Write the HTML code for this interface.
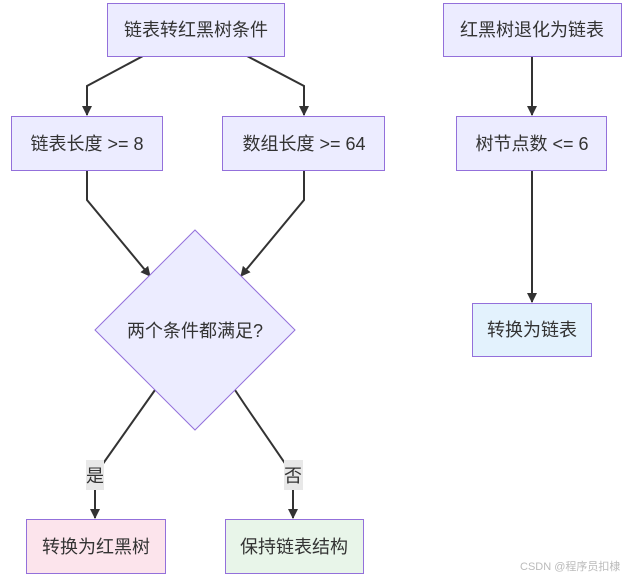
<!DOCTYPE html>
<html><head><meta charset="utf-8"><style>
html,body{margin:0;padding:0;background:#fff;}
svg{display:block;}
text{font-family:"Liberation Sans","Noto Sans CJK SC",sans-serif;font-size:18px;fill:#333;}
</style></head><body>
<svg width="630" height="578" viewBox="0 0 630 578" xmlns="http://www.w3.org/2000/svg">
<defs><marker id="a" markerWidth="10" markerHeight="10" refX="9" refY="5" orient="auto" markerUnits="userSpaceOnUse"><path d="M0,0 L10,5 L0,10 z" fill="#333"/></marker></defs>
<g fill="none" stroke="#333" stroke-width="2">
<polyline points="143,56 87,86 87,115" marker-end="url(#a)"/>
<polyline points="247,56 304,86 304,115" marker-end="url(#a)"/>
<polyline points="87,170 87,200 150,276" marker-end="url(#a)"/>
<polyline points="304,170 304,200 241,276" marker-end="url(#a)"/>
<polyline points="155,390 95,475 95,518" marker-end="url(#a)"/>
<polyline points="235,390 245,405 293,475 293,518" marker-end="url(#a)"/>
<line x1="532" y1="56" x2="532" y2="115" marker-end="url(#a)"/>
<line x1="532" y1="170" x2="532" y2="302" marker-end="url(#a)"/>
</g>
<g stroke="#9370DB" stroke-width="1">
<rect x="107.5" y="3.5" width="177" height="53" fill="#ECECFF"/>
<rect x="11.5" y="116.5" width="151" height="54" fill="#ECECFF"/>
<rect x="222.5" y="116.5" width="162" height="54" fill="#ECECFF"/>
<polygon points="195,230 295,330 195,430 95,330" fill="#ECECFF"/>
<rect x="26.5" y="519.5" width="139" height="54" fill="#FCE4EC"/>
<rect x="225.5" y="519.5" width="138" height="54" fill="#E8F5E9"/>
<rect x="443.5" y="3.5" width="178" height="53" fill="#ECECFF"/>
<rect x="456.5" y="116.5" width="150" height="54" fill="#ECECFF"/>
<rect x="472.5" y="303.5" width="119" height="53" fill="#E3F2FD"/>
</g>
<rect x="86" y="460" width="18" height="30" fill="#e8e8e8"/>
<rect x="284" y="460" width="19" height="30" fill="#e8e8e8"/>
<g text-anchor="middle">
<text x="196" y="36">链表转红黑树条件</text>
<text x="87" y="150">链表长度 &gt;= 8</text>
<text x="304" y="150">数组长度 &gt;= 64</text>
<text x="195" y="337">两个条件都满足?</text>
<text x="95" y="482">是</text>
<text x="293" y="482">否</text>
<text x="96" y="553">转换为红黑树</text>
<text x="294" y="553">保持链表结构</text>
<text x="532" y="36">红黑树退化为链表</text>
<text x="532" y="150">树节点数 &lt;= 6</text>
<text x="532" y="336">转换为链表</text>
</g>
<text x="520" y="570" style="font-size:11px;fill:#bbb">CSDN @程序员扣棣</text>
</svg>
</body></html>
